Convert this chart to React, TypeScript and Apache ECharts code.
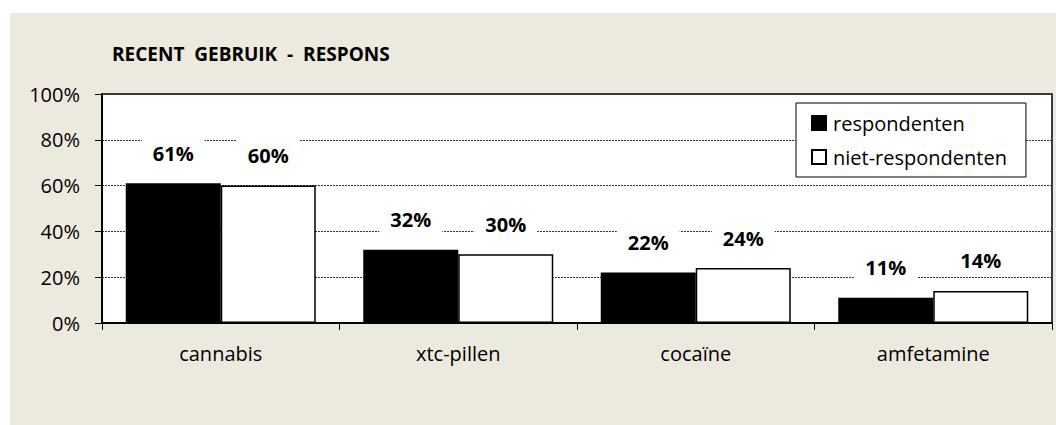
import React, { useEffect, useRef } from "react";
import * as echarts from "echarts";

const categories = ["cannabis", "xtc-pillen", "cocaïne", "amfetamine"];
const respondenten = [61, 32, 22, 11];
const nietRespondenten = [60, 30, 24, 14];
const seriesNames = ["respondenten", "niet-respondenten"];
const titleText = "RECENT  GEBRUIK  -  RESPONS";

const FONT = "'Open Sans', 'Noto Sans', sans-serif";

export default function App() {
  const ref = useRef<HTMLDivElement>(null);
  useEffect(() => {
    if (!ref.current) return;
    const chart = echarts.init(ref.current, undefined, { renderer: "svg" });
    const labelCfg = {
      show: true,
      position: "top",
      distance: 14,
      formatter: "{c}%",
      fontFamily: FONT,
      fontSize: 20,
      fontWeight: "bold",
      color: "#000",
      backgroundColor: "#fff",
      padding: [6, 11, 6, 11],
    };
    chart.setOption({
      animation: false,
      backgroundColor: "#ECE9DF",
      title: {
        text: titleText,
        left: 97,
        top: 26,
        textStyle: { fontFamily: FONT, fontSize: 19, fontWeight: "bold", color: "#000" },
      },
      legend: {
        orient: "vertical",
        left: 786,
        top: 90,
        data: seriesNames,
        backgroundColor: "#fff",
        borderColor: "#000",
        borderWidth: 1,
        borderRadius: 0,
        padding: [10, 19, 10, 15],
        itemWidth: 14,
        itemHeight: 14,
        itemGap: 14,
        icon: "rect",
        textStyle: { fontFamily: FONT, fontSize: 20, color: "#000", padding: [0, 0, 0, 2] },
      },
      grid: {
        left: 92,
        top: 81,
        right: 4,
        bottom: 102,
        show: true,
        backgroundColor: "#fff",
        borderColor: "#000",
        borderWidth: 1.5,
      },
      xAxis: {
        type: "category",
        data: categories,
        axisLine: { show: true, lineStyle: { color: "#000", width: 2 } },
        axisTick: { show: true, length: 7, lineStyle: { color: "#000", width: 1 } },
        axisLabel: { fontFamily: FONT, fontSize: 20, color: "#000", margin: 20 },
        splitLine: { show: false },
      },
      yAxis: {
        type: "value",
        min: 0,
        max: 100,
        interval: 20,
        axisLine: { show: true, lineStyle: { color: "#000", width: 2 } },
        axisTick: { show: true, length: 7, lineStyle: { color: "#000", width: 1 } },
        axisLabel: { fontFamily: FONT, fontSize: 20, color: "#000", margin: 22, formatter: "{value}%" },
        splitLine: { show: true, lineStyle: { color: "#333", width: 1, type: [2, 1] } },
      },
      series: [
        {
          name: seriesNames[0],
          type: "bar",
          data: respondenten,
          barGap: "0%",
          barCategoryGap: "20%",
          itemStyle: { color: "#000", borderColor: "#000", borderWidth: 1.5 },
          label: labelCfg,
        },
        {
          name: seriesNames[1],
          type: "bar",
          data: nietRespondenten,
          barGap: "0%",
          barCategoryGap: "20%",
          itemStyle: { color: "#fff", borderColor: "#000", borderWidth: 1.5 },
          label: labelCfg,
        },
      ],
    });
    return () => chart.dispose();
  }, []);
  return (
    <div style={{ position: "fixed", left: 0, top: 0, width: 1056, height: 425, background: "#fff" }}>
      <div ref={ref} style={{ position: "absolute", left: 10, top: 13, width: 1046, height: 412 }} />
    </div>
  );
}
